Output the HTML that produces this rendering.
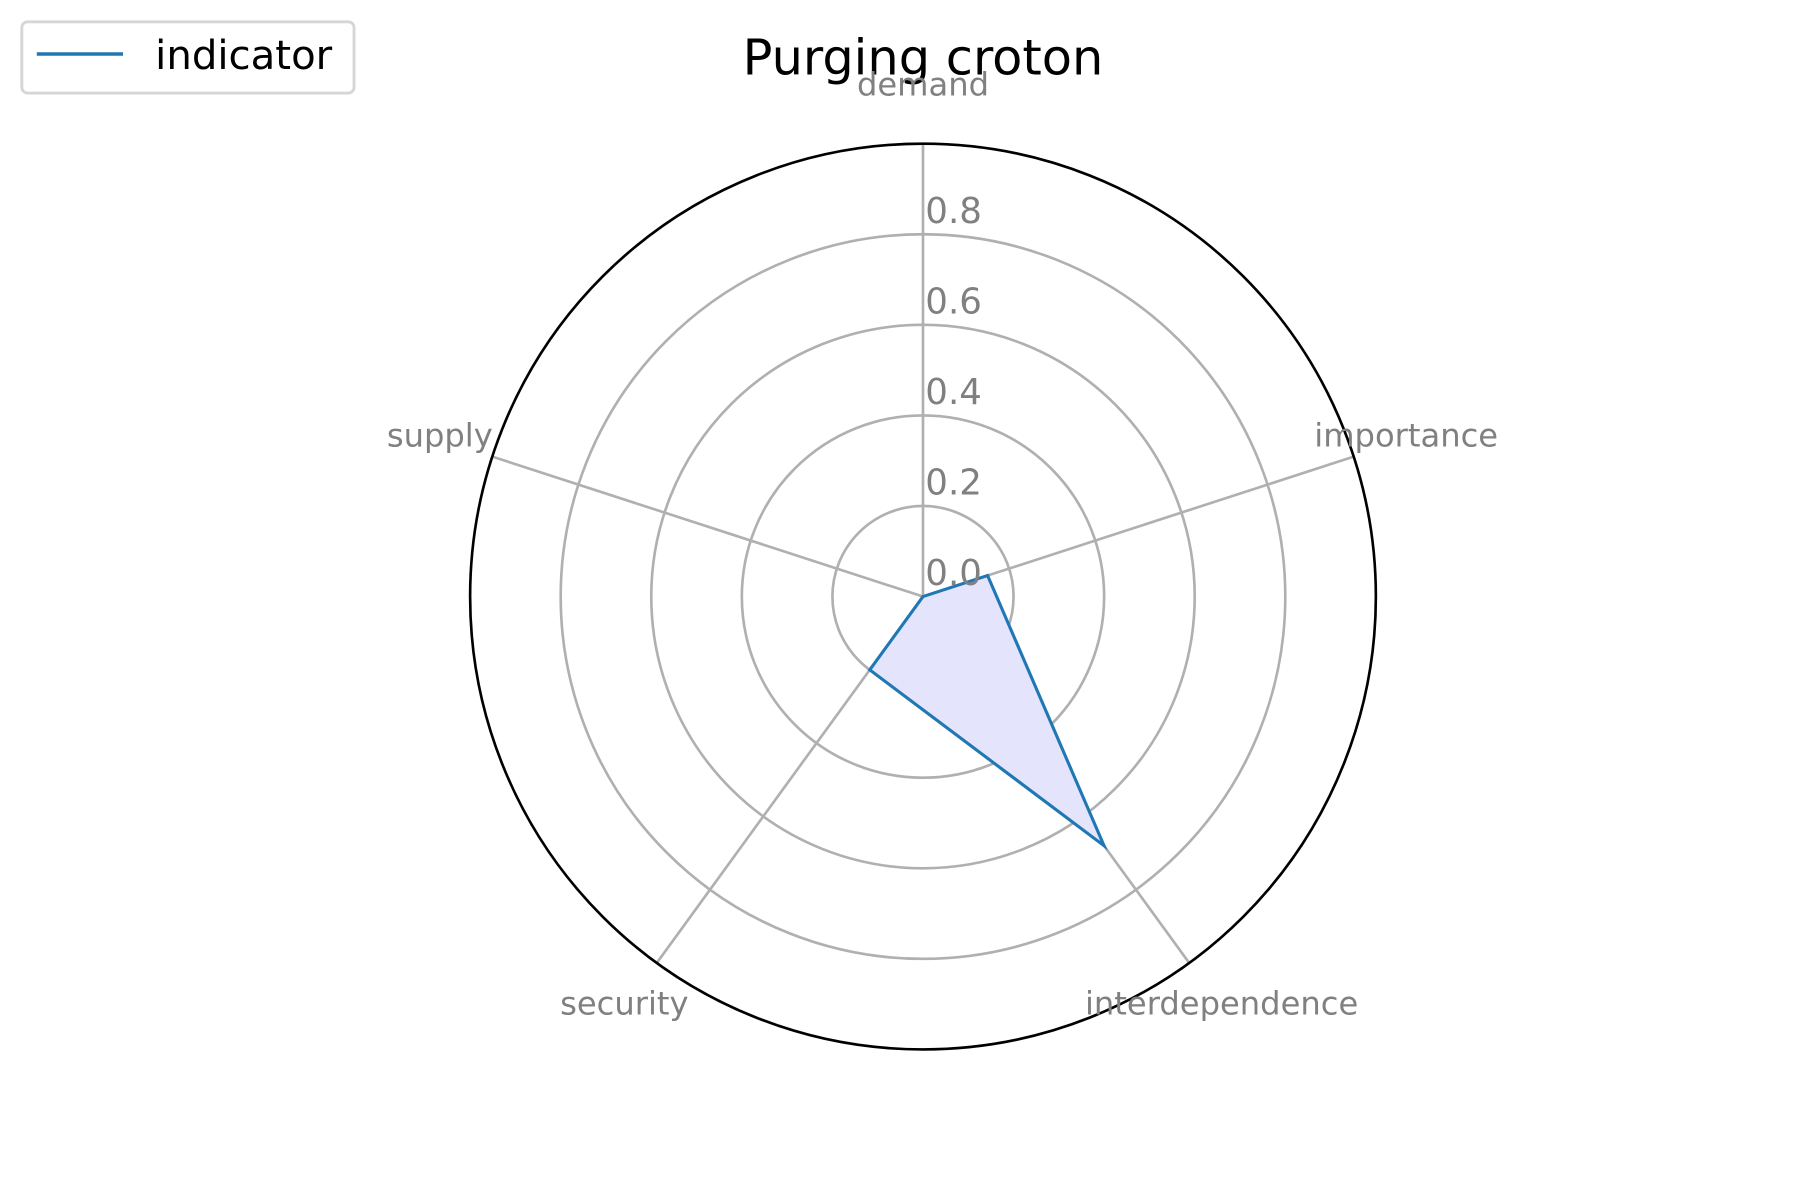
<!DOCTYPE html>
<html><head><meta charset="utf-8"><style>
html,body{margin:0;padding:0;background:#fff;}
svg{display:block;font-family:"DejaVu Sans","Liberation Sans",sans-serif;}
</style></head><body>
<svg id="chart" width="1800" height="1200" viewBox="0 0 1566 1044" preserveAspectRatio="none">
<rect width="1566" height="1044" fill="#fff"/>
<text x="803" y="65" font-size="43" text-anchor="middle" fill="#000">Purging croton</text>
<g id="grid"></g>
<g id="series"></g>
<g id="labels"></g>
<g>
<rect x="19" y="19" width="289" height="62" rx="5" fill="#fff" stroke="#d6d6d6" stroke-width="2.5"/>
<line x1="32" y1="47" x2="107" y2="47" stroke="#1f77b4" stroke-width="3"/>
<text x="135" y="60" font-size="35" fill="#000">indicator</text>
</g>
</svg>
<script>
const categories = ["demand","importance","interdependence","security","supply"];
const values = [0.0, 0.15, 0.68, 0.2, 0.0];
const ticks = [0.0, 0.2, 0.4, 0.6, 0.8];
const tickLabels = ["0.0","0.2","0.4","0.6","0.8"];

const NS="http://www.w3.org/2000/svg";
const cx=803, cy=519, R=394, rMax=1.0;
function rScale(v){return v/rMax*R;}
function ang(i){return -Math.PI/2 + i*2*Math.PI/categories.length;}
function pt(i,v){const a=ang(i);return [cx+rScale(v)*Math.cos(a), cy+rScale(v)*Math.sin(a)];}
function mk(tag,attrs,parent){const e=document.createElementNS(NS,tag);for(const k in attrs)e.setAttribute(k,attrs[k]);parent.appendChild(e);return e;}
const grid=document.getElementById('grid'), series=document.getElementById('series'), labels=document.getElementById('labels');

ticks.forEach((t,i)=>{
  if(t<=0) return;
  const c=mk('circle',{cx:cx,cy:cy,r:rScale(t),fill:'none',stroke:'#b0b0b0','stroke-width':2.3},grid);
  
  
});
categories.forEach((c,i)=>{
  const p=pt(i,rMax);
  const l=mk('line',{x1:cx,y1:cy,x2:p[0],y2:p[1],stroke:'#b0b0b0','stroke-width':2.3},grid);
  
  
});
const outer=mk('circle',{cx:cx,cy:cy,r:R,fill:'none',stroke:'#000','stroke-width':2.3},grid);



const pts=values.map((v,i)=>pt(i,v));
const d=pts.map((p,i)=>(i?'L':'M')+p[0].toFixed(2)+' '+p[1].toFixed(2)).join(' ')+' Z';
const fill=mk('path',{d:d,fill:'#e4e4fc',stroke:'none'},series);


const line=mk('path',{d:d,fill:'none',stroke:'#1f77b4','stroke-width':2.7,'stroke-linejoin':'miter'},series);



ticks.forEach((t,i)=>{
  const tx=mk('text',{x:cx+2,y:cy-rScale(t)-10,'font-size':31,fill:'#808080'},labels);
  tx.textContent=tickLabels[i];
  
  
});
categories.forEach((c,i)=>{
  const a=ang(i);
  const lr=R+48;
  let x=cx+lr*Math.cos(a), y=cy+lr*Math.sin(a)+6;
  const t=mk('text',{x:x,y:y,'font-size':28,fill:'#808080','text-anchor':'middle'},labels);
  t.textContent=c;
  
  
});
</script>
</body></html>
